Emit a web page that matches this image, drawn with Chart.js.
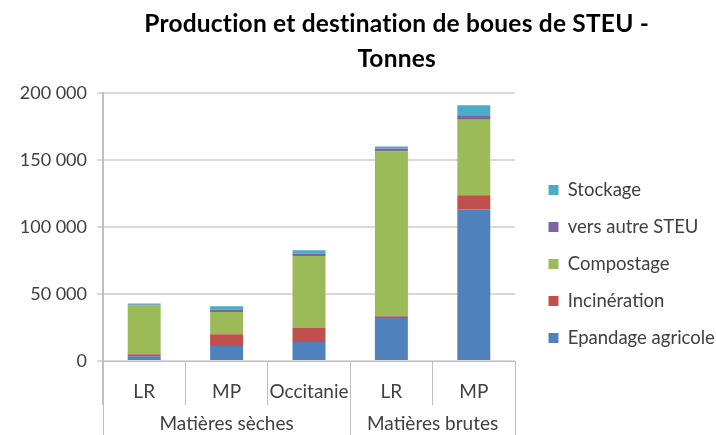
<!DOCTYPE html>
<html>
<head>
<meta charset="utf-8">
<script src="https://cdn.jsdelivr.net/npm/chart.js@4"></script>
<style>
  html, body { margin: 0; padding: 0; background: #fff; }
</style>
</head>
<body>
<canvas id="chart" width="716" height="435"></canvas>
<script>
// categories (two-level x axis)
const categories = ["LR", "MP", "Occitanie", "LR", "MP"];
const groups = ["Matières sèches", "Matières brutes"];
const groupSizes = [3, 2];

// tonnes
const epandage = [3500, 11200, 14200, 32100, 113200];
const incineration = [1500, 8700, 10400, 1300, 10500];
const compostage = [36500, 16700, 53800, 123100, 56400];
const versAutreSteu = [500, 1800, 1800, 2000, 3300];
const stockage = [1000, 2400, 2400, 1500, 7400];

const titleLines = ["Production et destination de boues de STEU -", "Tonnes"];

const FONT = "Lato";
const TEXT = "#404040";

// 200000 -> "200 000"
const fmt = (v) => String(v).replace(/\B(?=(\d{3})+(?!\d))/g, " ");

// group labels under the categories + title
const groupPlugin = {
  id: "groups",
  afterDraw(chart) {
    const ctx = chart.ctx;
    const x = chart.scales.x;
    const step = (x.right - x.left) / categories.length;
    ctx.save();
    ctx.strokeStyle = "#bfbfbf";
    ctx.lineWidth = 1;
    let pos = 0;
    const bounds = [0];
    groupSizes.forEach((n) => { pos += n; bounds.push(pos); });
    bounds.forEach((b) => {
      const px = Math.round(x.left + b * step) + 0.5;
      ctx.beginPath();
      ctx.moveTo(px, x.top);
      ctx.lineTo(px, chart.height);
      ctx.stroke();
    });

    ctx.fillStyle = TEXT;
    ctx.font = "19px " + FONT;
    ctx.textAlign = "center";
    ctx.textBaseline = "middle";
    pos = 0;
    groups.forEach((g, i) => {
      const mid = x.left + (pos + groupSizes[i] / 2) * step;
      ctx.fillText(g, mid, x.bottom - 11);
      pos += groupSizes[i];
    });

    // title, centred a bit right of the canvas middle like the original
    ctx.fillStyle = "#000";
    ctx.font = "bold 24.5px " + FONT;
    ctx.textBaseline = "alphabetic";
    ctx.letterSpacing = "0.2px"; // no "ti" ligature
    const cx = chart.width * 0.554;
    titleLines.forEach((t, i) => ctx.fillText(t, cx, 32 + i * 35));
    ctx.restore();
  },
};

const bar = { barPercentage: 0.4, categoryPercentage: 1 };

new Chart(document.getElementById("chart"), {
  type: "bar",
  data: {
    labels: categories,
    datasets: [
      { label: "Epandage agricole", data: epandage, backgroundColor: "#4f81bd", ...bar },
      { label: "Incinération", data: incineration, backgroundColor: "#c0504d", ...bar },
      { label: "Compostage", data: compostage, backgroundColor: "#9bbb59", ...bar },
      { label: "vers autre STEU", data: versAutreSteu, backgroundColor: "#8064a2", ...bar },
      { label: "Stockage", data: stockage, backgroundColor: "#4bacc6", ...bar },
    ],
  },
  options: {
    responsive: false,
    animation: false,
    layout: { padding: { top: 93, left: 0, right: 0, bottom: 0 } },
    plugins: {
      title: { display: false },
      tooltip: { enabled: false },
      legend: {
        position: "right",
        reverse: true,
        maxWidth: 186,
        labels: {
          boxWidth: 10,
          boxHeight: 10,
          padding: 18.5,
          color: TEXT,
          font: { family: FONT, size: 18.5 },
        },
      },
    },
    scales: {
      x: {
        stacked: true,
        grid: { offset: true, drawOnChartArea: false, tickLength: 44, color: "#bfbfbf" },
        border: { color: "#bfbfbf" },
        ticks: {
          padding: -25,
          maxRotation: 0,
          autoSkip: false,
          color: TEXT,
          font: { family: FONT, size: 19 },
        },
        afterFit(s) { s.height = 74; },
      },
      y: {
        stacked: true,
        min: 0,
        max: 200000,
        ticks: {
          stepSize: 50000,
          padding: 10,
          color: TEXT,
          font: { family: FONT, size: 18 },
          callback: (v) => fmt(v),
        },
        grid: { color: "#d9d9d9", lineWidth: 2, tickLength: 6 },
        border: { color: "#bfbfbf", width: 2 },
        afterFit(s) { s.width = 103; },
      },
      // empty axis: only keeps a gap between the plot and the legend
      gap: {
        type: "linear",
        position: "right",
        display: true,
        grid: { display: false },
        border: { display: false },
        ticks: { display: false },
        afterFit(s) { s.width = 15; },
      },
    },
  },
  plugins: [groupPlugin],
});
</script>
</body>
</html>
